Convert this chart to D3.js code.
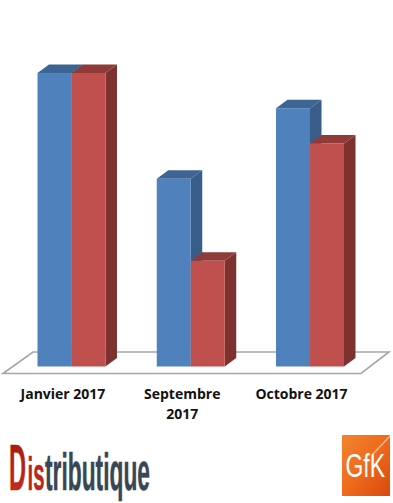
<!DOCTYPE html>
<html><head><meta charset="utf-8">
<script src="https://cdn.jsdelivr.net/npm/d3@7"></script>
<style>html,body{margin:0;padding:0;background:#fff}svg{display:block}</style>
</head><body><svg id="c" width="393" height="503"></svg>
<script>
const categories = ["Janvier 2017", "Septembre 2017", "Octobre 2017"];
const seriesNames = ["A", "B"];
const seriesA = [100, 64, 88];
const seriesB = [100, 36, 76];
const seriesValues = [seriesA, seriesB];
const tickLines = [["Janvier 2017"], ["Septembre", "2017"], ["Octobre 2017"]];
const colorsFront = ["#4f81bd", "#c0504d"];
const colorsSide = ["#385d8a", "#7d3230"];
const colorsTop = ["#3c6594", "#8e3b39"];

const svg = d3.select("#c");
const defs = svg.append("defs");
const gr = defs.append("linearGradient").attr("id","gfk").attr("x1",0).attr("y1",0).attr("x2",1).attr("y2",1);
gr.append("stop").attr("offset","0").attr("stop-color","#f2842e");
gr.append("stop").attr("offset","0.5").attr("stop-color","#ee6a1c");
gr.append("stop").attr("offset","1").attr("stop-color","#d8480f");
const gd = defs.append("linearGradient").attr("id","dred").attr("x1",0).attr("y1",0).attr("x2",0).attr("y2",1);
gd.append("stop").attr("offset","0").attr("stop-color","#a0180e");
gd.append("stop").attr("offset","1").attr("stop-color","#c8321e");

const x0 = d3.scaleBand().domain(categories).range([37.5, 344]).paddingInner(0.43).paddingOuter(0);
const x1 = d3.scaleBand().domain(seriesNames).range([0, x0.bandwidth()]);
const y = d3.scaleLinear().domain([0, 100]).range([366.5, 73]);
const dx = 11.5, dy = 8.5;

// floor
const base = y(0);
svg.append("path")
  .attr("d", d3.line()([[3, base+7], [33, base-14.5], [389, base-14.5], [361, base+7]]) + "Z")
  .attr("fill", "#fff").attr("stroke", "#a6a6a6").attr("stroke-width", 1.6);

const flat = [];
categories.forEach((c, i) => seriesNames.forEach((s, j) => flat.push({c, s, j, v: seriesValues[j][i]})));

const bars = svg.append("g").selectAll("g").data(flat).join("g");
bars.append("path").attr("fill", d => colorsSide[d.j]).attr("d", d => {
  const r = x0(d.c) + x1(d.s) + x1.bandwidth(), t = y(d.v);
  return d3.line()([[r, t], [r+dx, t-dy], [r+dx, base-dy], [r, base]]) + "Z";
});
bars.append("path").attr("fill", d => colorsTop[d.j]).attr("d", d => {
  const l = x0(d.c) + x1(d.s), r = l + x1.bandwidth(), t = y(d.v);
  return d3.line()([[l, t], [l+dx, t-dy], [r+dx, t-dy], [r, t]]) + "Z";
});
bars.append("rect").attr("fill", d => colorsFront[d.j])
  .attr("x", d => x0(d.c) + x1(d.s)).attr("width", x1.bandwidth())
  .attr("y", d => y(d.v)).attr("height", d => base - y(d.v));

// labels
const lab = svg.append("g").attr("font-family", "'Open Sans', sans-serif").attr("font-weight", 700)
  .attr("font-size", 14).attr("fill", "#111").attr("text-anchor", "middle");
categories.forEach((c, i) => {
  tickLines[i].forEach((t, k) => {
    lab.append("text").attr("x", x0(c) + x0.bandwidth()/2 - 8.5).attr("y", 399 + k*19.5).text(t);
  });
});

// squeeze a text to a given width with a transform so its box stays true
function fit(sel, x, yy, w) {
  const n = sel.node().getComputedTextLength();
  sel.attr("transform", `translate(${x},${yy}) scale(${w / n},1)`);
  return sel;
}

// Distributique logo
const logo = svg.append("g").attr("font-family", "'Liberation Sans Narrow','Liberation Sans',sans-serif").attr("font-weight", 700);
fit(logo.append("text").attr("font-size", 65).attr("fill", "url(#dred)").attr("stroke", "#b2220f").attr("stroke-width", 0.5).text("D"), 9, 490, 17);
fit(logo.append("text").attr("font-size", 47).attr("fill", "#b8281a").attr("stroke", "#b8281a").attr("stroke-width", 0.5).text("is"), 27.5, 490, 17);
fit(logo.append("text").attr("font-size", 52).attr("fill", "#3a4654").attr("stroke", "#3a4654").attr("stroke-width", 0.5).text("tributique"), 45, 490, 105);

// GfK logo
svg.append("rect").attr("x", 342).attr("y", 435).attr("width", 48).attr("height", 61).attr("fill", "url(#gfk)");
svg.append("path").attr("d", "M372 454 L390 435 L390 437 L374 454Z").attr("fill", "#fff").attr("opacity", 0.55);
const gk = svg.append("text").attr("font-family", "'Liberation Sans',sans-serif").attr("font-size", 33).attr("fill", "#fff").text("GfK");
fit(gk, 345.5, 477, 39.5);
</script></body></html>
